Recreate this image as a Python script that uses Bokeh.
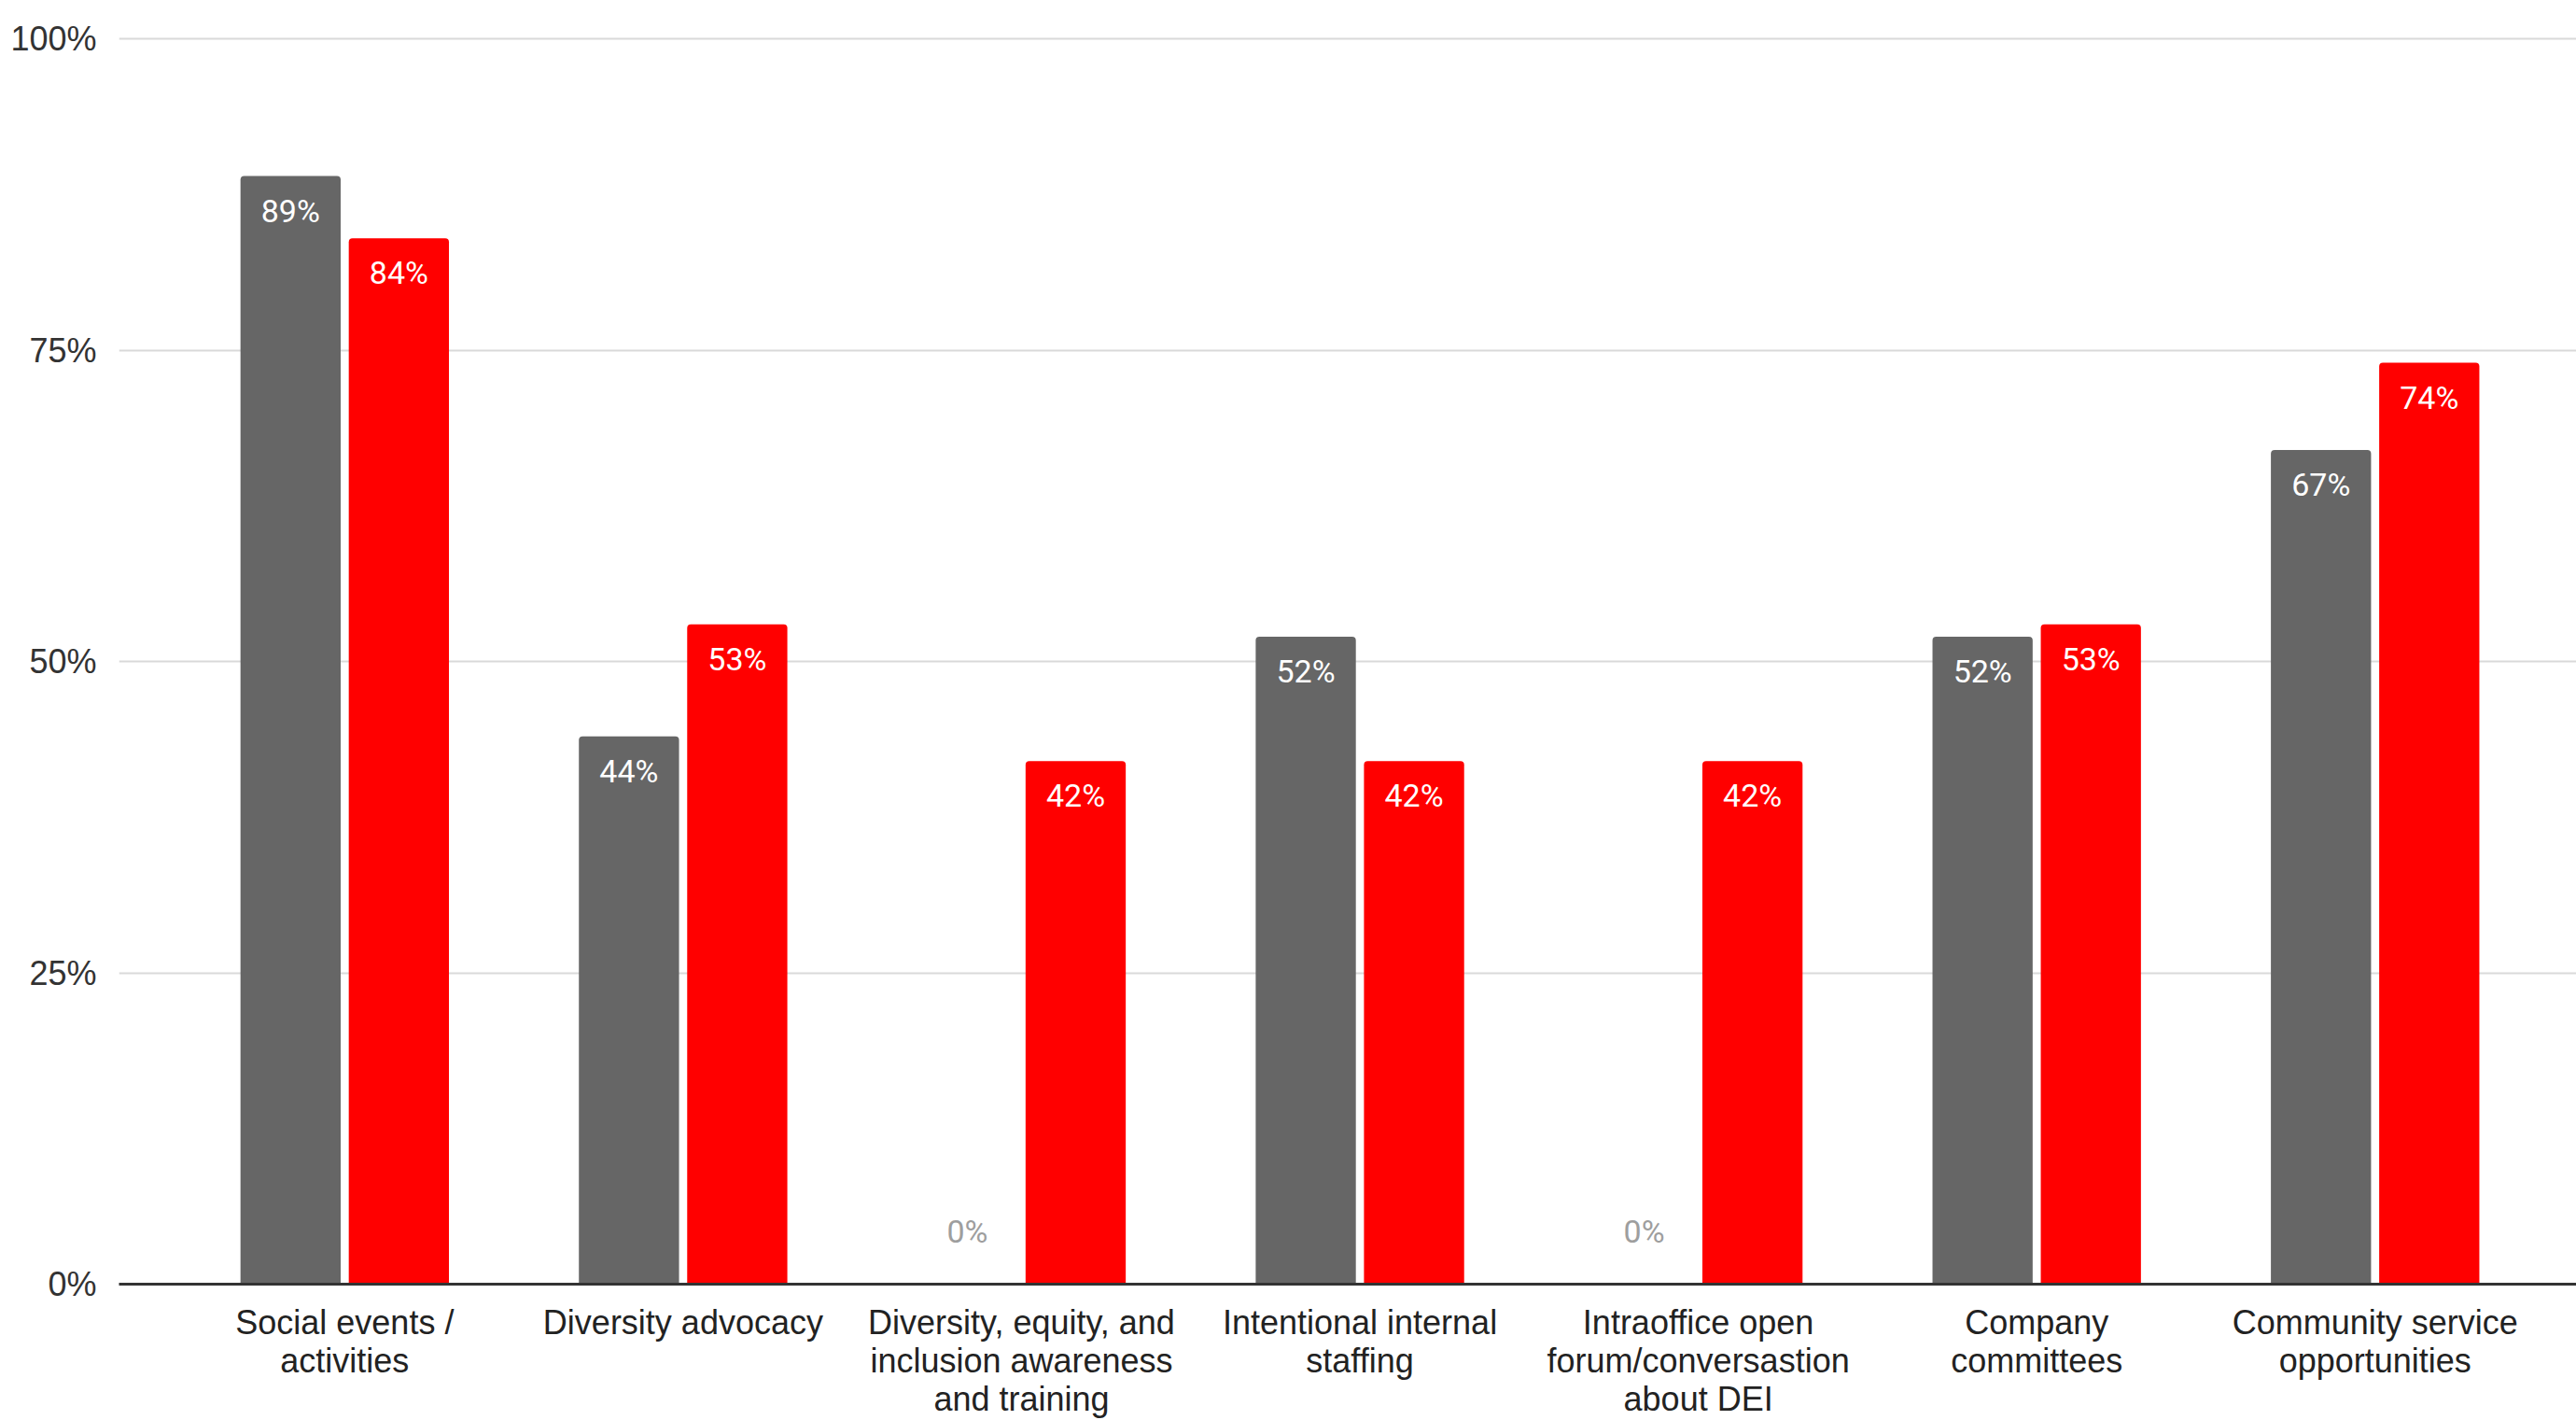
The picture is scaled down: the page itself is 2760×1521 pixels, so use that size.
from bokeh.plotting import figure
from bokeh.models import Range1d, FixedTicker, ColumnDataSource
from bokeh.core.properties import value
from bokeh.embed import file_html
from bokeh.resources import INLINE

categories = [
    "Social events /\nactivities",
    "Diversity advocacy",
    "Diversity, equity, and\ninclusion awareness\nand training",
    "Intentional internal\nstaffing",
    "Intraoffice open\nforum/conversastion\nabout DEI",
    "Company\ncommittees",
    "Community service\nopportunities",
]
gray_values = [0.89, 0.44, 0.00, 0.52, 0.00, 0.52, 0.67]
red_values = [0.84, 0.53, 0.42, 0.42, 0.42, 0.53, 0.74]
y_ticks = [0, 0.25, 0.5, 0.75, 1.0]
y_tick_labels = ["0%", "25%", "50%", "75%", "100%"]

GRAY = "#666666"
RED = "#ff0000"
OFF = 0.16
BW = 0.296

xs = list(range(len(categories)))

p = figure(width=2760, height=1521, output_backend="svg", toolbar_location=None,
           x_range=Range1d(-0.667, 6.595), y_range=Range1d(0, 1.0025),
           min_border_left=127, min_border_right=0, min_border_top=38, min_border_bottom=10)
p.outline_line_color = None
p.background_fill_color = "white"

def series_source(vals, offset):
    xpos = [x + offset for x in xs]
    pos_x, pos_y, pos_t, zx, zt = [], [], [], [], []
    for x, v in zip(xpos, vals):
        lab = f"{round(v * 100)}%"
        if v > 0:
            pos_x.append(x); pos_y.append(v); pos_t.append(lab)
        else:
            zx.append(x); zt.append(lab)
    return (ColumnDataSource(dict(x=xpos, top=vals)),
            ColumnDataSource(dict(x=pos_x, y=pos_y, t=pos_t)),
            ColumnDataSource(dict(x=zx, y=[0] * len(zx), t=zt)))

for vals, off, col in [(gray_values, -OFF, GRAY), (red_values, OFF, RED)]:
    bars, labs, zeros = series_source(vals, off)
    p.vbar(x="x", top="top", bottom=0, width=BW, source=bars, fill_color=col,
           line_color=None, border_radius=(4, 4, 0, 0))
    p.text(x="x", y="y", text="t", source=labs, text_color="white",
           text_font=value("Roboto"), text_font_size="34px",
           text_align="center", text_baseline="middle", y_offset=37)
    p.text(x="x", y="y", text="t", source=zeros, text_color="#9e9e9e",
           text_font=value("Roboto"), text_font_size="34px",
           text_align="center", text_baseline="middle", y_offset=-57)

# axes
p.xaxis.ticker = FixedTicker(ticks=xs)
p.xaxis.major_label_overrides = {i: c for i, c in enumerate(categories)}
p.xaxis.major_label_text_font = "Liberation Sans"
p.xaxis.major_label_text_font_size = "36px"
p.xaxis.major_label_text_color = "#222222"
p.xaxis.major_label_text_line_height = 1.0
p.xaxis.major_label_standoff = 14
p.xaxis.major_tick_line_color = None
p.xaxis.minor_tick_line_color = None
p.xaxis.axis_line_color = "#333333"
p.xaxis.axis_line_width = 3

p.yaxis.ticker = FixedTicker(ticks=y_ticks)
p.yaxis.major_label_overrides = {t: l for t, l in zip(y_ticks, y_tick_labels)}
p.yaxis.major_label_text_font = "Liberation Sans"
p.yaxis.major_label_text_font_size = "36px"
p.yaxis.major_label_text_color = "#333333"
p.yaxis.major_label_standoff = 18
p.yaxis.major_tick_line_color = None
p.yaxis.minor_tick_line_color = None
p.yaxis.axis_line_color = None

p.xgrid.grid_line_color = None
p.ygrid.grid_line_color = "#d9d9d9"
p.ygrid.grid_line_width = 2

open("out.html", "w").write(file_html(p, INLINE))
